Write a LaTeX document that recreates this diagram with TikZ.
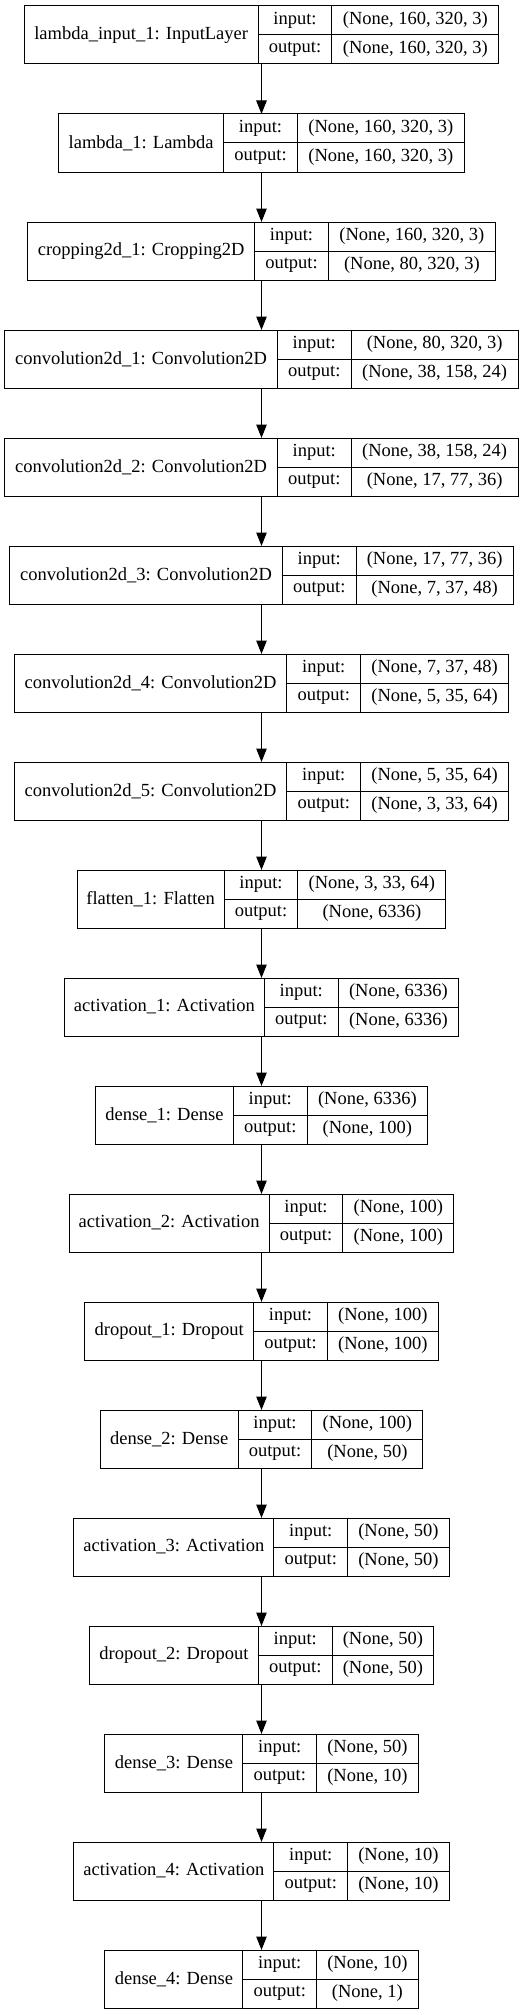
\documentclass[tikz,border=0pt]{standalone}
\usepackage{fontspec}
\setmainfont{Liberation Serif}
\usetikzlibrary{arrows.meta}

\begin{document}
\begin{tikzpicture}[x=1pt, y=-1pt,
	font=\fontsize{18.5}{22}\selectfont,
	layer/.style={rectangle, minimum height=58pt, inner sep=0pt, outer sep=0pt},
	namecell/.style={rectangle, draw, line width=1pt, anchor=north west, minimum height=58pt, inner sep=0pt, outer sep=0pt},
	keycell/.style={rectangle, draw, line width=1pt, anchor=north west, minimum width=73.7pt, minimum height=29pt, inner sep=0pt, outer sep=0pt},
	valcell/.style={keycell, minimum width=#1},
	conn/.style={line width=1pt, -{Triangle[length=13.5pt, width=10.5pt]}}]
			
			\useasboundingbox (0,0) rectangle (526,2015);
			
			\node[layer, minimum width=474.7pt]
			(Input) at (261.5,35) {};
			\node[namecell, minimum width=234pt]
			(Input-Name) at (Input.north west) {lambda\_input\_1: InputLayer};
			\node[keycell] (Input-In) at (Input-Name.north east) {input:};
			\node[keycell] (Input-Out) at (Input-In.south west) {output:};
			\node[valcell=167pt] (Input-InVal) at (Input-In.north east) {(None, 160, 320, 3)};
			\node[valcell=167pt] (Input-OutVal) at (Input-Out.north east) {(None, 160, 320, 3)};
			
			\node[layer, minimum width=405.7pt]
			(Lambda) at (261.5,143) {};
			\node[namecell, minimum width=165pt]
			(Lambda-Name) at (Lambda.north west) {lambda\_1: Lambda};
			\node[keycell] (Lambda-In) at (Lambda-Name.north east) {input:};
			\node[keycell] (Lambda-Out) at (Lambda-In.south west) {output:};
			\node[valcell=167pt] (Lambda-InVal) at (Lambda-In.north east) {(None, 160, 320, 3)};
			\node[valcell=167pt] (Lambda-OutVal) at (Lambda-Out.north east) {(None, 160, 320, 3)};
			
			\draw[conn] (Input) -- (Lambda);
			
			\node[layer, minimum width=467.7pt]
			(Crop) at (261.5,251) {};
			\node[namecell, minimum width=227pt]
			(Crop-Name) at (Crop.north west) {cropping2d\_1: Cropping2D};
			\node[keycell] (Crop-In) at (Crop-Name.north east) {input:};
			\node[keycell] (Crop-Out) at (Crop-In.south west) {output:};
			\node[valcell=167pt] (Crop-InVal) at (Crop-In.north east) {(None, 160, 320, 3)};
			\node[valcell=167pt] (Crop-OutVal) at (Crop-Out.north east) {(None, 80, 320, 3)};
			
			\draw[conn] (Lambda) -- (Crop);
			
			\node[layer, minimum width=513.2pt]
			(Conv1) at (261.5,359) {};
			\node[namecell, minimum width=272.5pt]
			(Conv1-Name) at (Conv1.north west) {convolution2d\_1: Convolution2D};
			\node[keycell] (Conv1-In) at (Conv1-Name.north east) {input:};
			\node[keycell] (Conv1-Out) at (Conv1-In.south west) {output:};
			\node[valcell=167pt] (Conv1-InVal) at (Conv1-In.north east) {(None, 80, 320, 3)};
			\node[valcell=167pt] (Conv1-OutVal) at (Conv1-Out.north east) {(None, 38, 158, 24)};
			
			\draw[conn] (Crop) -- (Conv1);
			
			\node[layer, minimum width=513.2pt]
			(Conv2) at (261.5,467) {};
			\node[namecell, minimum width=272.5pt]
			(Conv2-Name) at (Conv2.north west) {convolution2d\_2: Convolution2D};
			\node[keycell] (Conv2-In) at (Conv2-Name.north east) {input:};
			\node[keycell] (Conv2-Out) at (Conv2-In.south west) {output:};
			\node[valcell=167pt] (Conv2-InVal) at (Conv2-In.north east) {(None, 38, 158, 24)};
			\node[valcell=167pt] (Conv2-OutVal) at (Conv2-Out.north east) {(None, 17, 77, 36)};
			
			\draw[conn] (Conv1) -- (Conv2);
			
			\node[layer, minimum width=503.2pt]
			(Conv3) at (261.5,575) {};
			\node[namecell, minimum width=272.5pt]
			(Conv3-Name) at (Conv3.north west) {convolution2d\_3: Convolution2D};
			\node[keycell] (Conv3-In) at (Conv3-Name.north east) {input:};
			\node[keycell] (Conv3-Out) at (Conv3-In.south west) {output:};
			\node[valcell=157pt] (Conv3-InVal) at (Conv3-In.north east) {(None, 17, 77, 36)};
			\node[valcell=157pt] (Conv3-OutVal) at (Conv3-Out.north east) {(None, 7, 37, 48)};
			
			\draw[conn] (Conv2) -- (Conv3);
			
			\node[layer, minimum width=494.2pt]
			(Conv4) at (261.5,683) {};
			\node[namecell, minimum width=272.5pt]
			(Conv4-Name) at (Conv4.north west) {convolution2d\_4: Convolution2D};
			\node[keycell] (Conv4-In) at (Conv4-Name.north east) {input:};
			\node[keycell] (Conv4-Out) at (Conv4-In.south west) {output:};
			\node[valcell=148pt] (Conv4-InVal) at (Conv4-In.north east) {(None, 7, 37, 48)};
			\node[valcell=148pt] (Conv4-OutVal) at (Conv4-Out.north east) {(None, 5, 35, 64)};
			
			\draw[conn] (Conv3) -- (Conv4);
			
			\node[layer, minimum width=494.2pt]
			(Conv5) at (261.5,791) {};
			\node[namecell, minimum width=272.5pt]
			(Conv5-Name) at (Conv5.north west) {convolution2d\_5: Convolution2D};
			\node[keycell] (Conv5-In) at (Conv5-Name.north east) {input:};
			\node[keycell] (Conv5-Out) at (Conv5-In.south west) {output:};
			\node[valcell=148pt] (Conv5-InVal) at (Conv5-In.north east) {(None, 5, 35, 64)};
			\node[valcell=148pt] (Conv5-OutVal) at (Conv5-Out.north east) {(None, 3, 33, 64)};
			
			\draw[conn] (Conv4) -- (Conv5);
			
			\node[layer, minimum width=368.7pt]
			(Flatten) at (261.5,899) {};
			\node[namecell, minimum width=147pt]
			(Flatten-Name) at (Flatten.north west) {flatten\_1: Flatten};
			\node[keycell] (Flatten-In) at (Flatten-Name.north east) {input:};
			\node[keycell] (Flatten-Out) at (Flatten-In.south west) {output:};
			\node[valcell=148pt] (Flatten-InVal) at (Flatten-In.north east) {(None, 3, 33, 64)};
			\node[valcell=148pt] (Flatten-OutVal) at (Flatten-Out.north east) {(None, 6336)};
			
			\draw[conn] (Conv5) -- (Flatten);
			
			\node[layer, minimum width=394.2pt]
			(Act1) at (261.5,1007) {};
			\node[namecell, minimum width=200pt]
			(Act1-Name) at (Act1.north west) {activation\_1: Activation};
			\node[keycell] (Act1-In) at (Act1-Name.north east) {input:};
			\node[keycell] (Act1-Out) at (Act1-In.south west) {output:};
			\node[valcell=120.5pt] (Act1-InVal) at (Act1-In.north east) {(None, 6336)};
			\node[valcell=120.5pt] (Act1-OutVal) at (Act1-Out.north east) {(None, 6336)};
			
			\draw[conn] (Flatten) -- (Act1);
			
			\node[layer, minimum width=332.2pt]
			(Dense1) at (261.5,1115) {};
			\node[namecell, minimum width=138pt]
			(Dense1-Name) at (Dense1.north west) {dense\_1: Dense};
			\node[keycell] (Dense1-In) at (Dense1-Name.north east) {input:};
			\node[keycell] (Dense1-Out) at (Dense1-In.south west) {output:};
			\node[valcell=120.5pt] (Dense1-InVal) at (Dense1-In.north east) {(None, 6336)};
			\node[valcell=120.5pt] (Dense1-OutVal) at (Dense1-Out.north east) {(None, 100)};
			
			\draw[conn] (Act1) -- (Dense1);
			
			\node[layer, minimum width=384.7pt]
			(Act2) at (261.5,1223) {};
			\node[namecell, minimum width=200pt]
			(Act2-Name) at (Act2.north west) {activation\_2: Activation};
			\node[keycell] (Act2-In) at (Act2-Name.north east) {input:};
			\node[keycell] (Act2-Out) at (Act2-In.south west) {output:};
			\node[valcell=111pt] (Act2-InVal) at (Act2-In.north east) {(None, 100)};
			\node[valcell=111pt] (Act2-OutVal) at (Act2-Out.north east) {(None, 100)};
			
			\draw[conn] (Dense1) -- (Act2);
			
			\node[layer, minimum width=353.7pt]
			(Drop1) at (261.5,1331) {};
			\node[namecell, minimum width=169pt]
			(Drop1-Name) at (Drop1.north west) {dropout\_1: Dropout};
			\node[keycell] (Drop1-In) at (Drop1-Name.north east) {input:};
			\node[keycell] (Drop1-Out) at (Drop1-In.south west) {output:};
			\node[valcell=111pt] (Drop1-InVal) at (Drop1-In.north east) {(None, 100)};
			\node[valcell=111pt] (Drop1-OutVal) at (Drop1-Out.north east) {(None, 100)};
			
			\draw[conn] (Act2) -- (Drop1);
			
			\node[layer, minimum width=322.7pt]
			(Dense2) at (261.5,1439) {};
			\node[namecell, minimum width=138pt]
			(Dense2-Name) at (Dense2.north west) {dense\_2: Dense};
			\node[keycell] (Dense2-In) at (Dense2-Name.north east) {input:};
			\node[keycell] (Dense2-Out) at (Dense2-In.south west) {output:};
			\node[valcell=111pt] (Dense2-InVal) at (Dense2-In.north east) {(None, 100)};
			\node[valcell=111pt] (Dense2-OutVal) at (Dense2-Out.north east) {(None, 50)};
			
			\draw[conn] (Drop1) -- (Dense2);
			
			\node[layer, minimum width=375.2pt]
			(Act3) at (261.5,1547) {};
			\node[namecell, minimum width=200pt]
			(Act3-Name) at (Act3.north west) {activation\_3: Activation};
			\node[keycell] (Act3-In) at (Act3-Name.north east) {input:};
			\node[keycell] (Act3-Out) at (Act3-In.south west) {output:};
			\node[valcell=101.5pt] (Act3-InVal) at (Act3-In.north east) {(None, 50)};
			\node[valcell=101.5pt] (Act3-OutVal) at (Act3-Out.north east) {(None, 50)};
			
			\draw[conn] (Dense2) -- (Act3);
			
			\node[layer, minimum width=344.2pt]
			(Drop2) at (261.5,1655) {};
			\node[namecell, minimum width=169pt]
			(Drop2-Name) at (Drop2.north west) {dropout\_2: Dropout};
			\node[keycell] (Drop2-In) at (Drop2-Name.north east) {input:};
			\node[keycell] (Drop2-Out) at (Drop2-In.south west) {output:};
			\node[valcell=101.5pt] (Drop2-InVal) at (Drop2-In.north east) {(None, 50)};
			\node[valcell=101.5pt] (Drop2-OutVal) at (Drop2-Out.north east) {(None, 50)};
			
			\draw[conn] (Act3) -- (Drop2);
			
			\node[layer, minimum width=313.2pt]
			(Dense3) at (261.5,1763) {};
			\node[namecell, minimum width=138pt]
			(Dense3-Name) at (Dense3.north west) {dense\_3: Dense};
			\node[keycell] (Dense3-In) at (Dense3-Name.north east) {input:};
			\node[keycell] (Dense3-Out) at (Dense3-In.south west) {output:};
			\node[valcell=101.5pt] (Dense3-InVal) at (Dense3-In.north east) {(None, 50)};
			\node[valcell=101.5pt] (Dense3-OutVal) at (Dense3-Out.north east) {(None, 10)};
			
			\draw[conn] (Drop2) -- (Dense3);
			
			\node[layer, minimum width=375.2pt]
			(Act4) at (261.5,1871) {};
			\node[namecell, minimum width=200pt]
			(Act4-Name) at (Act4.north west) {activation\_4: Activation};
			\node[keycell] (Act4-In) at (Act4-Name.north east) {input:};
			\node[keycell] (Act4-Out) at (Act4-In.south west) {output:};
			\node[valcell=101.5pt] (Act4-InVal) at (Act4-In.north east) {(None, 10)};
			\node[valcell=101.5pt] (Act4-OutVal) at (Act4-Out.north east) {(None, 10)};
			
			\draw[conn] (Dense3) -- (Act4);
			
			\node[layer, minimum width=313.2pt]
			(Dense4) at (261.5,1979) {};
			\node[namecell, minimum width=138pt]
			(Dense4-Name) at (Dense4.north west) {dense\_4: Dense};
			\node[keycell] (Dense4-In) at (Dense4-Name.north east) {input:};
			\node[keycell] (Dense4-Out) at (Dense4-In.south west) {output:};
			\node[valcell=101.5pt] (Dense4-InVal) at (Dense4-In.north east) {(None, 10)};
			\node[valcell=101.5pt] (Dense4-OutVal) at (Dense4-Out.north east) {(None, 1)};
			
			\draw[conn] (Act4) -- (Dense4);
			
		\end{tikzpicture}
\end{document}
